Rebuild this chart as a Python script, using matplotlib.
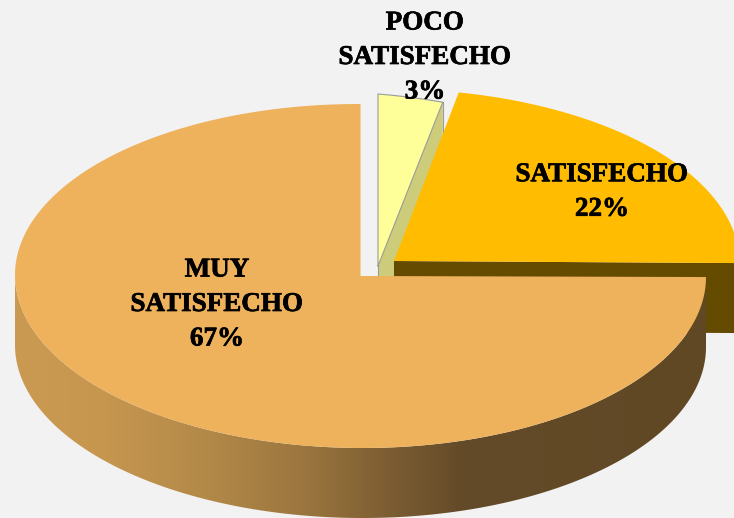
import numpy as np
import matplotlib
matplotlib.use("Agg")
import matplotlib.pyplot as plt
import matplotlib.patheffects as pe
from matplotlib.colors import LinearSegmentedColormap
from matplotlib.patches import Polygon

categories = ["POCO\nSATISFECHO", "SATISFECHO", "MUY\nSATISFECHO"]
slice_shares = [3, 22, 75]
shown_percent = [3, 22, 67]

BG = "#f2f2f2"
top_colors = ["#ffff99", "#ffbc00", "#efb25c"]
side_colors = ["#cccc7a", "#654b00", None]
centers = [(378, 266), (394, 261), (360.5, 276)]
tilts = [0.08, 0.006, 0.003]
label_pos = [(425, 57.5), (602, 192), (217, 304.5)]
RX, RY, DEPTH = 345.5, 172, 70

W, H = 734, 518
fig = plt.figure(figsize=(W / 100, H / 100), dpi=100, facecolor=BG)
ax = fig.add_axes([0, 0, 1, 1])
ax.set_xlim(0, W)
ax.set_ylim(H, 0)
ax.axis("off")

edges = np.concatenate([[0], np.cumsum(slice_shares)]) / np.sum(slice_shares) * 2 * np.pi


def rim(i, t):
    cx, cy = centers[i]
    x = cx + RX * np.sin(t)
    y = cy - RY * np.cos(t) + tilts[i] * (x - cx)
    return np.column_stack([x, y])


def top_poly(i):
    t = np.linspace(edges[i], edges[i + 1], 240)
    return np.vstack([[centers[i]], rim(i, t)])


def add(pts, color, z):
    ax.add_patch(Polygon(pts, closed=True, facecolor=color, edgecolor="none", linewidth=0, zorder=z))


# POCO: side faces, then top
apex = np.array(centers[0], float)
edge_pt = rim(0, np.array([edges[1]]))[0]
down = np.array([0, DEPTH])
add([apex, edge_pt, edge_pt + down, apex + down], side_colors[0], 1)
add(top_poly(0), top_colors[0], 2)
outline = top_poly(0)
outline = np.vstack([outline, outline[:1]])
ax.plot(outline[:, 0], outline[:, 1], color="#9a9a9a", lw=0.8, zorder=3)
ax.plot([apex[0], apex[0]], [apex[1], apex[1] + 10], color="#9a9a9a", lw=0.8, zorder=3)
ax.plot([edge_pt[0], edge_pt[0]], [edge_pt[1], edge_pt[1] + 32], color="#9a9a9a", lw=0.8, zorder=3)

# SATISFECHO: cut face, then top
apex2 = np.array(centers[1], float)
end2 = rim(1, np.array([edges[2]]))[0]
add([apex2, end2, end2 + down, apex2 + down], side_colors[1], 4)
add(top_poly(1), top_colors[1], 5)

# MUY SATISFECHO: rim with horizontal gradient, then top
t_side = np.linspace(edges[2], np.pi * 1.5, 400)
upper = rim(2, t_side)
lower = upper + down
side_path = Polygon(np.vstack([upper, lower[::-1]]), closed=True, transform=ax.transData,
                    facecolor="none", edgecolor="none")
ax.add_patch(side_path)
stops = [(0.00, "#cb9a52"), (0.13, "#c6964f"), (0.27, "#b48a49"), (0.42, "#9a753e"),
         (0.55, "#7a5c32"), (0.65, "#634a28"), (1.00, "#604825")]
cmap = LinearSegmentedColormap.from_list("rim", stops)
grad = np.linspace(0, 1, 700)[None, :]
img = ax.imshow(grad, extent=[15, 706, 518, 270], cmap=cmap, aspect="auto", zorder=6,
                interpolation="bilinear")
img.set_clip_path(side_path)
add(top_poly(2), top_colors[2], 7)
ax.set_xlim(0, W)
ax.set_ylim(H, 0)

# Labels
for cat, pct, (x, y) in zip(categories, shown_percent, label_pos):
    ax.text(x, y, f"{cat}\n{pct}%", ha="center", va="center", family="Liberation Serif",
            fontweight="bold", fontsize=19.5, color="#000000", linespacing=1.5, zorder=10,
            path_effects=[pe.withStroke(linewidth=0.5, foreground="#000000")])

fig.savefig("out.png", dpi=100, facecolor=BG)
